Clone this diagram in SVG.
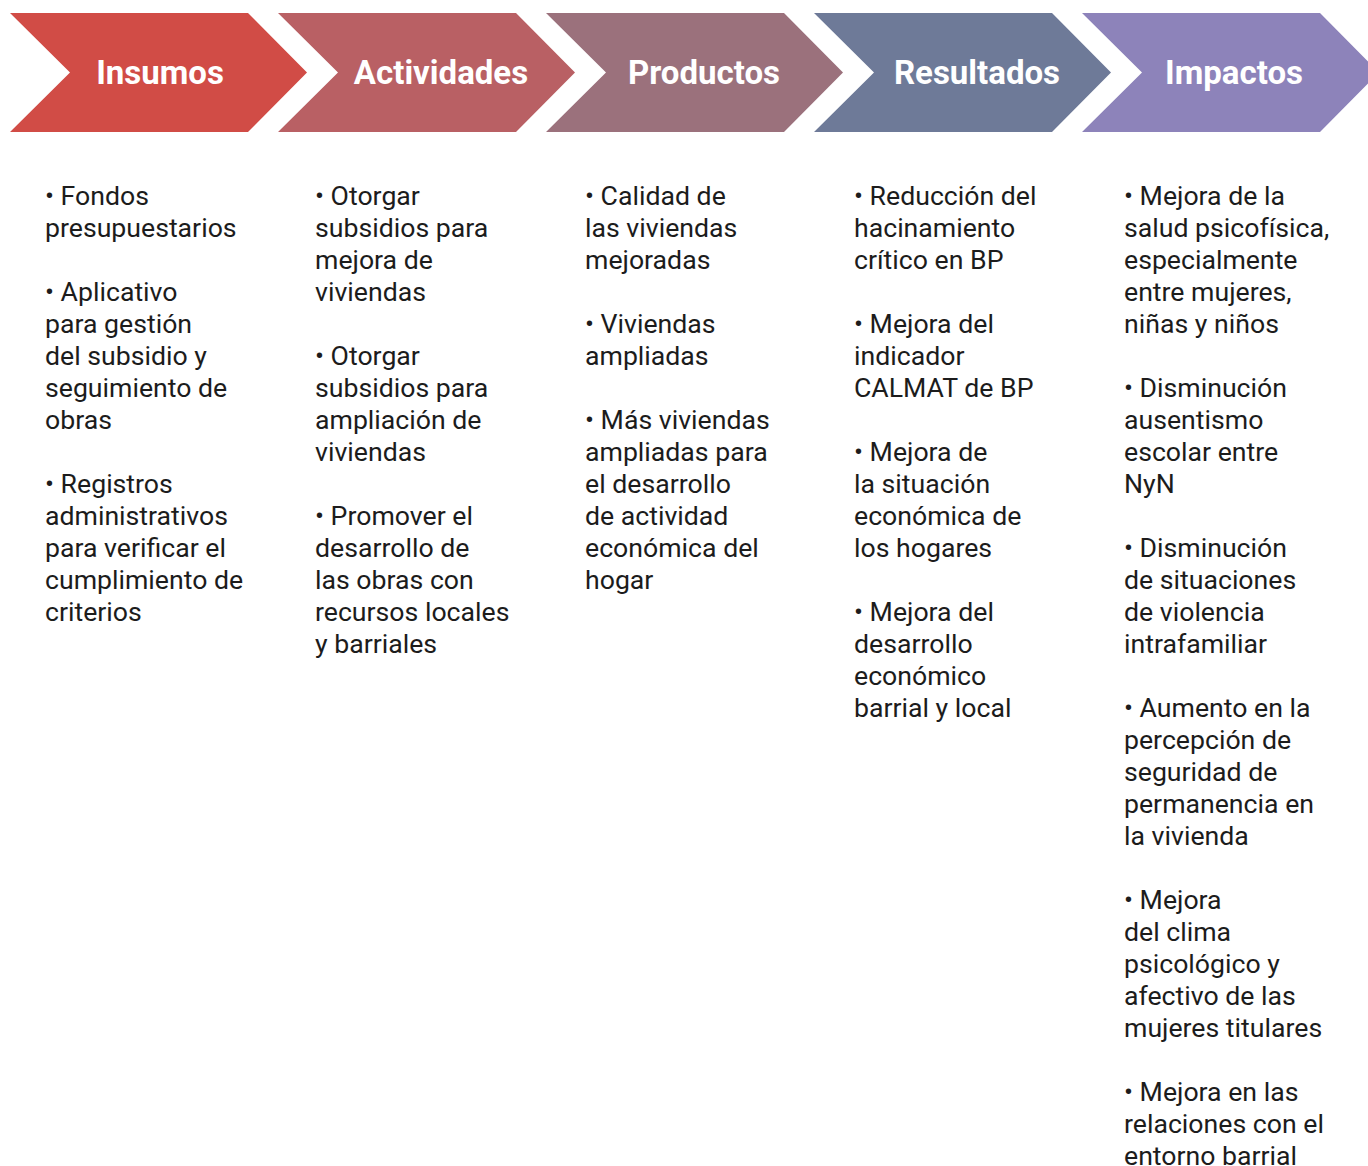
<svg xmlns="http://www.w3.org/2000/svg" width="1368" height="1166" viewBox="0 0 1368 1166">
  <style>
    .stage { stroke: none; }
    .title { font-family: Roboto, "Liberation Sans", sans-serif; font-weight: 700; font-size: 33px; fill: #ffffff; text-anchor: middle; }
    .body { font-family: Roboto, "Liberation Sans", sans-serif; font-weight: 400; font-size: 26.67px; fill: #1c1c1c; }
  </style>
  <defs>
    <!-- one chevron shape, placed per stage -->
    <polygon id="chev" points="0,13 238,13 297,72.5 238,132 0,132 60,72.5"/>
  </defs>
  <rect width="1368" height="1166" fill="#ffffff"/>

  <g id="connectors"></g>

  <g id="insumos">
    <use href="#chev" x="10" fill="#D14C46" class="stage"/>
    <text class="title" x="160" y="84">Insumos</text>
    <text class="body" x="45">
      <tspan x="45" y="205">• Fondos</tspan>
      <tspan x="45" y="237">presupuestarios</tspan>
      <tspan x="45" y="301">• Aplicativo</tspan>
      <tspan x="45" y="333">para gestión</tspan>
      <tspan x="45" y="365">del subsidio y</tspan>
      <tspan x="45" y="397">seguimiento de</tspan>
      <tspan x="45" y="429">obras</tspan>
      <tspan x="45" y="493">• Registros</tspan>
      <tspan x="45" y="525">administrativos</tspan>
      <tspan x="45" y="557">para verificar el</tspan>
      <tspan x="45" y="589">cumplimiento de</tspan>
      <tspan x="45" y="621">criterios</tspan>
    </text>
  </g>

  <g id="actividades">
    <use href="#chev" x="278" fill="#B96064" class="stage"/>
    <text class="title" x="441" y="84">Actividades</text>
    <text class="body" x="315">
      <tspan x="315" y="205">• Otorgar</tspan>
      <tspan x="315" y="237">subsidios para</tspan>
      <tspan x="315" y="269">mejora de</tspan>
      <tspan x="315" y="301">viviendas</tspan>
      <tspan x="315" y="365">• Otorgar</tspan>
      <tspan x="315" y="397">subsidios para</tspan>
      <tspan x="315" y="429">ampliación de</tspan>
      <tspan x="315" y="461">viviendas</tspan>
      <tspan x="315" y="525">• Promover el</tspan>
      <tspan x="315" y="557">desarrollo de</tspan>
      <tspan x="315" y="589">las obras con</tspan>
      <tspan x="315" y="621">recursos locales</tspan>
      <tspan x="315" y="653">y barriales</tspan>
    </text>
  </g>

  <g id="productos">
    <use href="#chev" x="546" fill="#9B717C" class="stage"/>
    <text class="title" x="704" y="84">Productos</text>
    <text class="body" x="585">
      <tspan x="585" y="205">• Calidad de</tspan>
      <tspan x="585" y="237">las viviendas</tspan>
      <tspan x="585" y="269">mejoradas</tspan>
      <tspan x="585" y="333">• Viviendas</tspan>
      <tspan x="585" y="365">ampliadas</tspan>
      <tspan x="585" y="429">• Más viviendas</tspan>
      <tspan x="585" y="461">ampliadas para</tspan>
      <tspan x="585" y="493">el desarrollo</tspan>
      <tspan x="585" y="525">de actividad</tspan>
      <tspan x="585" y="557">económica del</tspan>
      <tspan x="585" y="589">hogar</tspan>
    </text>
  </g>

  <g id="resultados">
    <use href="#chev" x="814" fill="#6E7A98" class="stage"/>
    <text class="title" x="977" y="84">Resultados</text>
    <text class="body" x="854">
      <tspan x="854" y="205">• Reducción del</tspan>
      <tspan x="854" y="237">hacinamiento</tspan>
      <tspan x="854" y="269">crítico en BP</tspan>
      <tspan x="854" y="333">• Mejora del</tspan>
      <tspan x="854" y="365">indicador</tspan>
      <tspan x="854" y="397">CALMAT de BP</tspan>
      <tspan x="854" y="461">• Mejora de</tspan>
      <tspan x="854" y="493">la situación</tspan>
      <tspan x="854" y="525">económica de</tspan>
      <tspan x="854" y="557">los hogares</tspan>
      <tspan x="854" y="621">• Mejora del</tspan>
      <tspan x="854" y="653">desarrollo</tspan>
      <tspan x="854" y="685">económico</tspan>
      <tspan x="854" y="717">barrial y local</tspan>
    </text>
  </g>

  <g id="impactos">
    <use href="#chev" x="1082" fill="#8D83BA" class="stage"/>
    <text class="title" x="1234" y="84">Impactos</text>
    <text class="body" x="1124">
      <tspan x="1124" y="205">• Mejora de la</tspan>
      <tspan x="1124" y="237">salud psicofísica,</tspan>
      <tspan x="1124" y="269">especialmente</tspan>
      <tspan x="1124" y="301">entre mujeres,</tspan>
      <tspan x="1124" y="333">niñas y niños</tspan>
      <tspan x="1124" y="397">• Disminución</tspan>
      <tspan x="1124" y="429">ausentismo</tspan>
      <tspan x="1124" y="461">escolar entre</tspan>
      <tspan x="1124" y="493">NyN</tspan>
      <tspan x="1124" y="557">• Disminución</tspan>
      <tspan x="1124" y="589">de situaciones</tspan>
      <tspan x="1124" y="621">de violencia</tspan>
      <tspan x="1124" y="653">intrafamiliar</tspan>
      <tspan x="1124" y="717">• Aumento en la</tspan>
      <tspan x="1124" y="749">percepción de</tspan>
      <tspan x="1124" y="781">seguridad de</tspan>
      <tspan x="1124" y="813">permanencia en</tspan>
      <tspan x="1124" y="845">la vivienda</tspan>
      <tspan x="1124" y="909">• Mejora</tspan>
      <tspan x="1124" y="941">del clima</tspan>
      <tspan x="1124" y="973">psicológico y</tspan>
      <tspan x="1124" y="1005">afectivo de las</tspan>
      <tspan x="1124" y="1037">mujeres titulares</tspan>
      <tspan x="1124" y="1101">• Mejora en las</tspan>
      <tspan x="1124" y="1133">relaciones con el</tspan>
      <tspan x="1124" y="1165">entorno barrial</tspan>
    </text>
  </g>
</svg>
